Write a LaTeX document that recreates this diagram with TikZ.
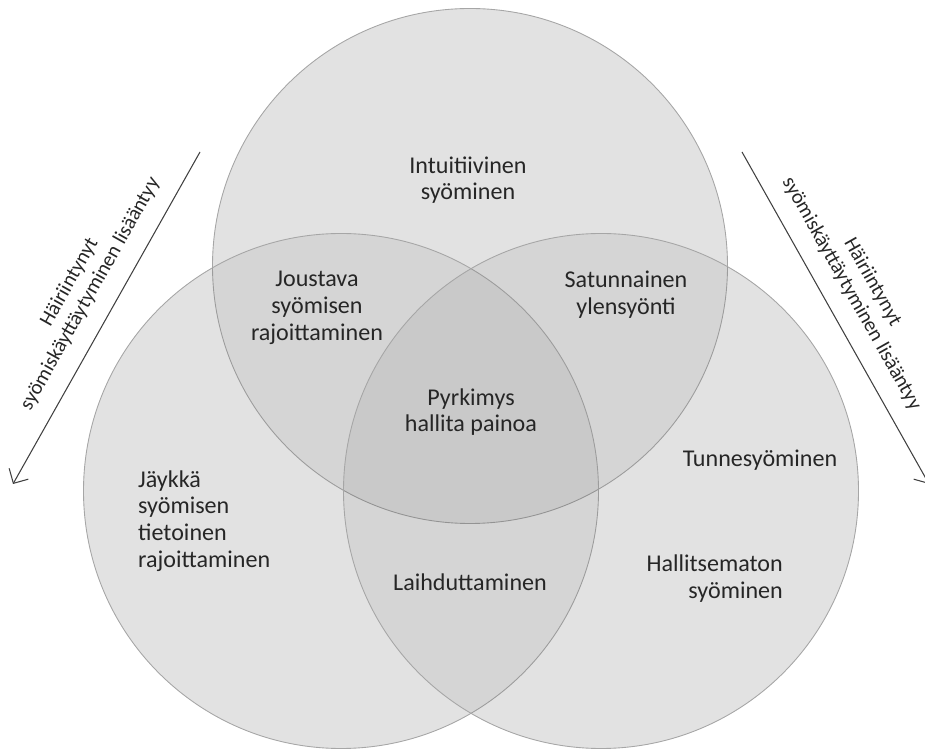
\documentclass[tikz,border=0pt]{standalone}
\usepackage{fontspec}
\setmainfont{Carlito}
\usetikzlibrary{arrows.meta}

\begin{document}
\begin{tikzpicture}[x=1cm,y=1cm,>={Straight Barb[length=2.2mm,width=4.4mm]},
    venn/.style={draw=gray!70,line width=0.5pt,fill=black,fill opacity=0.055},
    lab/.style={text=black!85,font=\fontsize{13.7}{15.2}\selectfont,align=center},
    side/.style={text=black!85,font=\fontsize{11.7}{13.6}\selectfont,align=center,
        inner sep=1pt}]
    \useasboundingbox (0,0) rectangle (18.5,14.98);

    % light base under all three circles
    \fill[black!6] (9.40,9.66) circle (5.15) (6.82,5.16) circle (5.15)
        (12.02,5.16) circle (5.15);
    \draw[venn] (9.40,9.66) circle (5.15);
    \draw[venn] (6.82,5.16) circle (5.15);
    \draw[venn] (12.02,5.16) circle (5.15);

    \node[lab] (intuit) at (9.36,11.38) {Intuitiivinen\\syöminen};
    \node[lab] (joust) at (6.34,8.82) {Joustava\\syömisen\\rajoittaminen};
    \node[lab] (satun) at (12.52,9.08) {Satunnainen\\ylensyönti};
    \node[lab] (pyrk) at (9.42,6.74) {Pyrkimys\\hallita painoa};
    \node[lab,align=left,anchor=west] (jayk) at (2.64,4.56)
        {Jäykkä\\syömisen\\tietoinen\\rajoittaminen};
    \node[lab] (laihd) at (9.40,3.34) {Laihduttaminen};
    \node[lab] (tunne) at (15.20,5.78) {Tunnesyöminen};
    \node[lab,align=right,anchor=east] (hallit) at (15.78,3.41)
        {Hallitsematon\\syöminen};

    % arrows at the sides
    \coordinate (lTop) at (4.00,11.94);
    \coordinate (lTip) at (0.26,5.30);
    \coordinate (rTop) at (14.84,11.94);
    \coordinate (rTip) at (18.58,5.30);
    \draw[->,black!75,line width=0.6pt] (lTop) -- (lTip);
    \draw[->,black!75,line width=0.6pt] (rTop) -- (rTip);
    \node[side,rotate=60.6] (lLab) at (1.60,9.22)
        {Häiriintynyt\\syömiskäyttäytyminen lisääntyy};
    \node[side,rotate=-60.6] (rLab) at (17.24,9.22)
        {Häiriintynyt\\syömiskäyttäytyminen lisääntyy};
\end{tikzpicture}
\end{document}
